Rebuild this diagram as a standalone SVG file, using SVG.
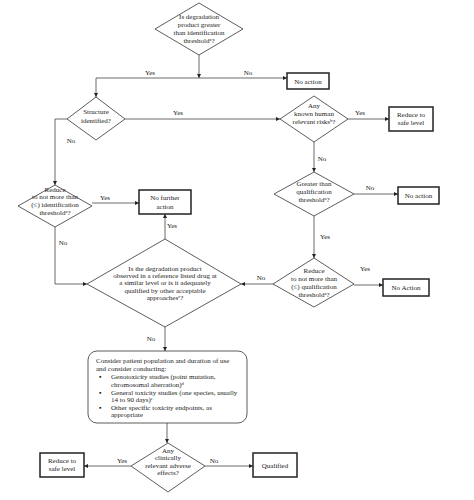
<svg xmlns="http://www.w3.org/2000/svg" width="474" height="500" viewBox="0 0 474 500">
<style>
text{font-family:"Liberation Serif","Times New Roman",serif;font-size:7px;fill:#222;text-anchor:middle}
.l{text-anchor:start}
.d{fill:#fff;stroke:#333;stroke-width:0.8}
.b{fill:#fff;stroke:#222;stroke-width:1.5}
.c{fill:none;stroke:#444;stroke-width:0.8}
.s{font-size:4.5px}
</style>
<defs>
<marker id="ah" viewBox="0 0 10 10" refX="10" refY="5" markerUnits="userSpaceOnUse" markerWidth="5" markerHeight="4" orient="auto"><path d="M0,0 L10,5 L0,10 z" fill="#222"/></marker>
</defs>
<rect width="474" height="500" fill="#fff"/>
<g id="connectors">
<path class="c" d="M199,55 V78" marker-end="url(#ah)"/>
<path class="c" d="M199,78 H96 V97" marker-end="url(#ah)"/>
<path class="c" d="M199,78 H287" marker-end="url(#ah)"/>
<path class="c" d="M125,119 H280" marker-end="url(#ah)"/>
<path class="c" d="M67,119 H55 V185" marker-end="url(#ah)"/>
<path class="c" d="M348,119 H389" marker-end="url(#ah)"/>
<path class="c" d="M314,142 V172" marker-end="url(#ah)"/>
<path class="c" d="M354,194 H398" marker-end="url(#ah)"/>
<path class="c" d="M314,216 V258" marker-end="url(#ah)"/>
<path class="c" d="M354,285 H383" marker-end="url(#ah)"/>
<path class="c" d="M273,284 H241" marker-end="url(#ah)"/>
<path class="c" d="M92,203 H139" marker-end="url(#ah)"/>
<path class="c" d="M55,227 V284 H87" marker-end="url(#ah)"/>
<path class="c" d="M165,239 V214" marker-end="url(#ah)"/>
<path class="c" d="M165,327 V351" marker-end="url(#ah)"/>
<path class="c" d="M167,423 V443" marker-end="url(#ah)"/>
<path class="c" d="M131,466 H84" marker-end="url(#ah)"/>
<path class="c" d="M205,466 H253" marker-end="url(#ah)"/>
<text x="150" y="75">Yes</text>
<text x="248" y="75">No</text>
<text x="178" y="115">Yes</text>
<text x="71" y="143">No</text>
<text x="360" y="115">Yes</text>
<text x="322" y="161">No</text>
<text x="370" y="190">No</text>
<text x="325" y="239">Yes</text>
<text x="365" y="271">Yes</text>
<text x="261" y="280">No</text>
<text x="105" y="200">Yes</text>
<text x="63" y="245">No</text>
<text x="172" y="228">Yes</text>
<text x="151" y="341">No</text>
<text x="122" y="463">Yes</text>
<text x="214" y="463">No</text>
</g>
<g id="q-identification">
<polygon class="d" points="199,3 243,29 199,55 155,29"/>
<text x="199" y="19">Is degradation</text>
<text x="199" y="27">product greater</text>
<text x="199" y="35">than identification</text>
<text x="199" y="43">threshold<tspan class="s" dy="-2.5">a</tspan><tspan dy="2.5">?</tspan></text>
</g>
<g id="no-action-1">
<rect class="b" x="287" y="73" width="42" height="16"/>
<text x="308" y="83.5">No action</text>
</g>
<g id="q-structure">
<polygon class="d" points="96,97 125,119 96,140 67,119"/>
<text x="96" y="114">Structure</text>
<text x="96" y="123">identified?</text>
</g>
<g id="q-risks">
<polygon class="d" points="314,96 348,119 314,142 280,119"/>
<text x="314" y="108">Any</text>
<text x="314" y="116">known human</text>
<text x="314" y="124">relevant risks<tspan class="s" dy="-2.5">b</tspan><tspan dy="2.5">?</tspan></text>
</g>
<g id="reduce-safe-1">
<rect class="b" x="389" y="107" width="44" height="24"/>
<text x="411" y="117">Reduce to</text>
<text x="411" y="125">safe level</text>
</g>
<g id="q-qualification">
<polygon class="d" points="314,172 354,194 314,216 274,194"/>
<text x="314" y="186">Greater than</text>
<text x="314" y="194">qualification</text>
<text x="314" y="202">threshold<tspan class="s" dy="-2.5">a</tspan><tspan dy="2.5">?</tspan></text>
</g>
<g id="no-action-2">
<rect class="b" x="398" y="187" width="41" height="17"/>
<text x="418.5" y="198">No action</text>
</g>
<g id="q-reduce-qual">
<polygon class="d" points="314,258 354,284 314,307 273,284"/>
<text x="314" y="273">Reduce</text>
<text x="314" y="281">to not more than</text>
<text x="314" y="289">(≤) qualification</text>
<text x="314" y="297">threshold<tspan class="s" dy="-2.5">a</tspan><tspan dy="2.5">?</tspan></text>
</g>
<g id="no-action-3">
<rect class="b" x="383" y="279" width="46" height="17"/>
<text x="406" y="290">No Action</text>
</g>
<g id="q-reduce-id">
<polygon class="d" points="55,185 92,206 55,227 18,206"/>
<text x="55" y="192">Reduce</text>
<text x="55" y="199">to not more than</text>
<text x="55" y="207">(≤) identification</text>
<text x="55" y="215">threshold<tspan class="s" dy="-2.5">a</tspan><tspan dy="2.5">?</tspan></text>
</g>
<g id="no-further-action">
<rect class="b" x="139" y="190" width="52" height="24"/>
<text x="165" y="200">No further</text>
<text x="165" y="209">action</text>
</g>
<g id="q-reference">
<polygon class="d" points="165,239 241,284 165,327 87,284"/>
<text x="165" y="271">Is the degradation product</text>
<text x="165" y="278">observed in a reference listed drug at</text>
<text x="165" y="285">a similar level or is it adequately</text>
<text x="165" y="293">qualified by other acceptable</text>
<text x="165" y="300">approaches<tspan class="s" dy="-2.5">c</tspan><tspan dy="2.5">?</tspan></text>
</g>
<g id="consider">
<rect x="88" y="351" width="159" height="72" rx="9" fill="#fff" stroke="#333" stroke-width="0.8"/>
<text class="l" x="96" y="363">Consider patient population and duration of use</text>
<text class="l" x="96" y="371">and consider conducting:</text>
<text class="l" x="99" y="379">▪</text>
<text class="l" x="111" y="379">Genotoxicity studies (point mutation,</text>
<text class="l" x="111" y="387">chromosomal aberration)<tspan class="s" dy="-2.5">d</tspan></text>
<text class="l" x="99" y="395">▪</text>
<text class="l" x="111" y="395">General toxicity studies (one species, usually</text>
<text class="l" x="111" y="402">14 to 90 days)<tspan class="s" dy="-2.5">e</tspan></text>
<text class="l" x="99" y="410">▪</text>
<text class="l" x="111" y="410">Other specific toxicity endpoints, as</text>
<text class="l" x="111" y="417">appropriate</text>
</g>
<g id="q-adverse">
<polygon class="d" points="168,443 205,466 168,492 131,466"/>
<text x="168" y="453">Any</text>
<text x="168" y="460">clinically</text>
<text x="168" y="468">relevant adverse</text>
<text x="168" y="475">effects?</text>
</g>
<g id="reduce-safe-2">
<rect class="b" x="40" y="453" width="44" height="24"/>
<text x="62" y="463">Reduce to</text>
<text x="62" y="471">safe level</text>
</g>
<g id="qualified">
<rect class="b" x="253" y="453" width="44" height="24"/>
<text x="275" y="467.5">Qualified</text>
</g>
</svg>
